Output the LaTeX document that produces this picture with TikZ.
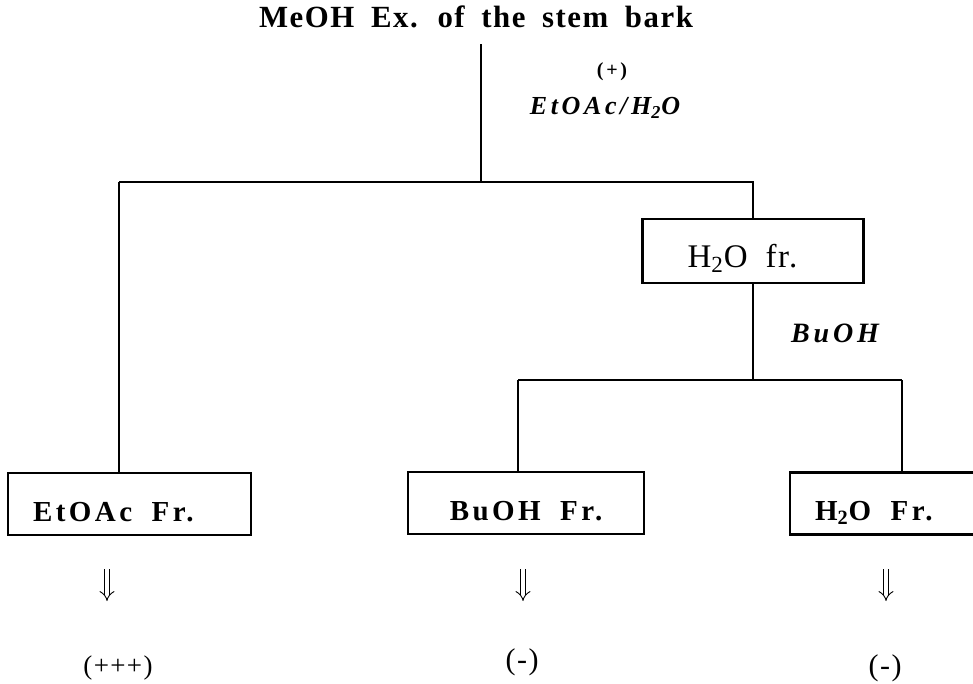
\documentclass[tikz,border=0pt]{standalone}
\usepackage{fontspec}
\setmainfont{Liberation Serif}
\newfontfamily\headfont[LetterSpace=5,WordSpace=1.8]{Liberation Serif}
\newfontfamily\boxfont[LetterSpace=12,WordSpace=1.8]{Liberation Serif}
\newfontfamily\solvfont[LetterSpace=14]{Liberation Serif}
\usetikzlibrary{positioning,arrows.meta}

\begin{document}
\begin{tikzpicture}[
  x=0.5pt, y=-0.5pt,
  line width=1pt,
  frbox/.style={draw,line width=1.1pt,minimum height=31pt,inner xsep=12.5pt,
    text height=17pt,text depth=0pt,font=\boxfont\bfseries\fontsize{14.5}{17}\selectfont},
  solv/.style={font=\solvfont\bfseries\itshape\fontsize{13}{15}\selectfont},
  res/.style={font=\headfont\fontsize{13.5}{16}\selectfont},
  imp/.style={double,double distance=2.2pt,line width=0.45pt,-{Implies}},
]
\useasboundingbox (0,0) rectangle (973,684);
\clip (0,0) rectangle (973,684);
% extract and first partition
\node[font=\headfont\bfseries\fontsize{15.4}{18}\selectfont,anchor=base] (meoh) at (476,28)
  {MeOH Ex. of the stem bark};
\node[font=\solvfont\bfseries\fontsize{10}{12}\selectfont] (act) at (612,72) {(+)};
\node[solv] (sol1) at (605,108) {EtOAc/H\textsubscript{2}O};
\coordinate (split1) at (481,182);
\coordinate (barL) at (119,182);
\coordinate (barR) at (753,182);
\draw ([yshift=-4pt]meoh.south -| split1) -- (split1);
\node[frbox,inner xsep=22.5pt,minimum height=32pt,text height=16pt,
  font=\headfont\fontsize{16.5}{19}\selectfont] (waterfr) at (753,251)
  {\makebox[65.5pt][l]{H\textsubscript{2}O fr.}};
\draw (barL) -- (barR) -- (waterfr.north);
% second partition
\coordinate (split2) at (753,380);
\coordinate (bar2L) at (518,380);
\coordinate (bar2R) at (902,380);
\node[solv,font=\solvfont\bfseries\itshape\fontsize{14}{16}\selectfont] (sol2) at (835,333) {BuOH};
\draw (waterfr.south) -- (split2);
\draw (bar2L) -- (bar2R);
% fractions
\node[frbox] (etoac) at (129.5,504) {\makebox[96.5pt][l]{EtOAc Fr.}};
\node[frbox,minimum width=118pt] (buoh) at (526,503) {BuOH Fr.};
\node[frbox] (waterFr) at (900,503.5) {\makebox[85pt][l]{H\textsubscript{2}O Fr.}};
\draw (barL) -- (etoac.north -| barL);
\draw (bar2L) -- (buoh.north -| bar2L);
\draw (bar2R) -- (waterFr.north -| bar2R);
% activities
\node[res] (r1) at (118,668) {(+++)};
\node[res,font=\headfont\fontsize{15}{18}\selectfont] (r2) at (522,662) {(-)};
\node[res,font=\headfont\fontsize{15}{18}\selectfont] (r3) at (885,668) {(-)};
\coordinate (top1) at (107,569); \coordinate (tip1) at (107,601);
\coordinate (top2) at (523,569); \coordinate (tip2) at (523,601);
\coordinate (top3) at (886,569); \coordinate (tip3) at (886,601);
\draw[imp] (top1) -- (tip1);
\draw[imp] (top2) -- (tip2);
\draw[imp] (top3) -- (tip3);
\end{tikzpicture}
\end{document}
